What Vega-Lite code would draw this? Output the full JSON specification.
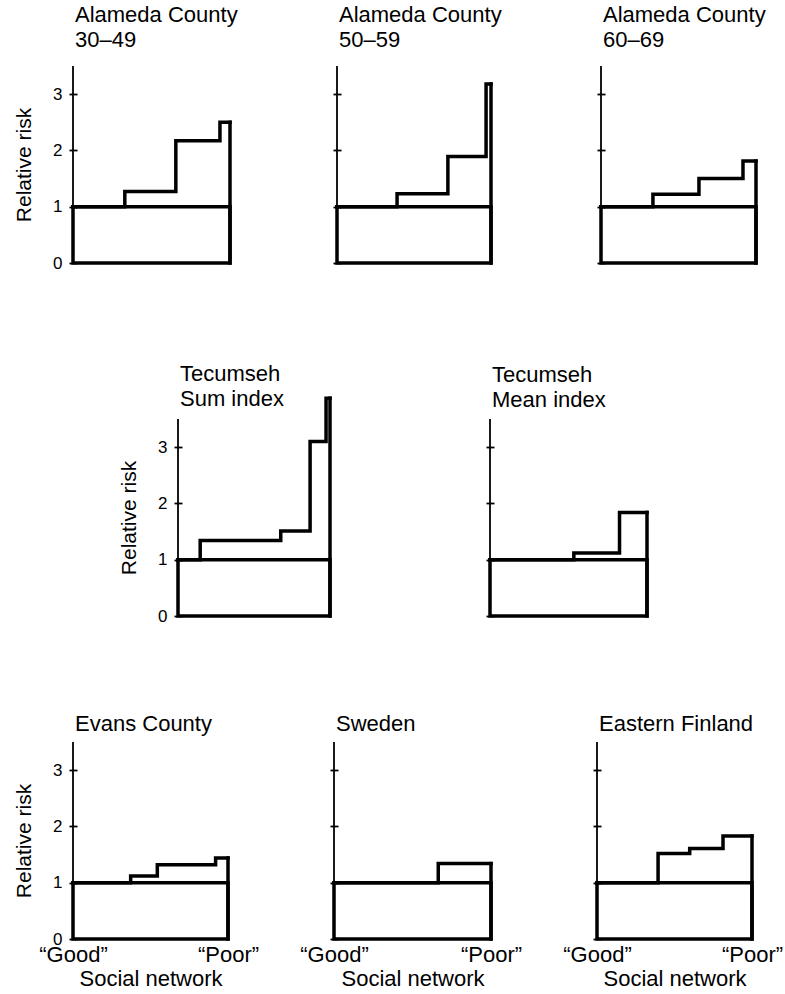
{
  "$schema": "https://vega.github.io/schema/vega-lite/v6.json",
  "background": "white",
  "padding": {"left": 13, "top": 4, "right": 5, "bottom": 0},
  "datasets": {
    "rr": [
      {"panel": "A1", "x": 0, "rr": 1.0}, {"panel": "A1", "x": 33, "rr": 1.27}, {"panel": "A1", "x": 65.5, "rr": 2.17}, {"panel": "A1", "x": 93.6, "rr": 2.5}, {"panel": "A1", "x": 100, "rr": 2.5},
      {"panel": "A2", "x": 0, "rr": 1.0}, {"panel": "A2", "x": 39, "rr": 1.23}, {"panel": "A2", "x": 72, "rr": 1.89}, {"panel": "A2", "x": 96.8, "rr": 3.18}, {"panel": "A2", "x": 100, "rr": 3.18},
      {"panel": "A3", "x": 0, "rr": 1.0}, {"panel": "A3", "x": 33.5, "rr": 1.22}, {"panel": "A3", "x": 63.2, "rr": 1.5}, {"panel": "A3", "x": 91.6, "rr": 1.81}, {"panel": "A3", "x": 100, "rr": 1.81},
      {"panel": "T1", "x": 0, "rr": 1.0}, {"panel": "T1", "x": 14.6, "rr": 1.34}, {"panel": "T1", "x": 67.6, "rr": 1.51}, {"panel": "T1", "x": 86.9, "rr": 3.1}, {"panel": "T1", "x": 97.4, "rr": 3.87}, {"panel": "T1", "x": 100, "rr": 3.87},
      {"panel": "T2", "x": 0, "rr": 1.0}, {"panel": "T2", "x": 53.4, "rr": 1.12}, {"panel": "T2", "x": 82.5, "rr": 1.84}, {"panel": "T2", "x": 100, "rr": 1.84},
      {"panel": "E", "x": 0, "rr": 1.0}, {"panel": "E", "x": 37.2, "rr": 1.12}, {"panel": "E", "x": 54.4, "rr": 1.32}, {"panel": "E", "x": 92, "rr": 1.44}, {"panel": "E", "x": 100, "rr": 1.44},
      {"panel": "S", "x": 0, "rr": 1.0}, {"panel": "S", "x": 66.4, "rr": 1.34}, {"panel": "S", "x": 100, "rr": 1.34},
      {"panel": "F", "x": 0, "rr": 1.0}, {"panel": "F", "x": 39.4, "rr": 1.52}, {"panel": "F", "x": 59.8, "rr": 1.61}, {"panel": "F", "x": 81.3, "rr": 1.83}, {"panel": "F", "x": 100, "rr": 1.83}
    ]
  },
  "config": {
    "view": {"stroke": null},
    "font": "Liberation Sans",
    "title": {"fontSize": 22, "fontWeight": "normal", "anchor": "start", "frame": "group", "lineHeight": 25, "color": "black", "dx": 2, "font": "Liberation Sans"},
    "axis": {"grid": false, "domain": false, "labelColor": "black", "titleColor": "black", "tickColor": "black", "labelFontSize": 17, "titleFontSize": 21, "titleFontWeight": "normal", "labelFont": "Liberation Sans", "titleFont": "Liberation Sans"}
  },
  "vconcat": [
    {
      "hconcat": [
        {
          "width": 157, "height": 197,
          "title": {"text": ["Alameda County", "30–49"], "offset": 13},
          "data": {"name": "rr"},
          "transform": [{"filter": "datum.panel === 'A1'"}],
          "encoding": {
            "x": {"field": "x", "type": "quantitative", "scale": {"domain": [0, 100], "nice": false, "zero": false}, "axis": null},
            "y": {"field": "rr", "type": "quantitative", "scale": {"domain": [0, 3.5], "nice": false}, "axis": {"values": [0, 1, 2, 3], "tickSize": 8, "offset": -4, "tickWidth": 1.8, "labelPadding": 7, "title": "Relative risk", "titlePadding": 18}}
          },
          "layer": [
            {"transform": [{"filter": "datum.x === 0"}], "mark": {"type": "rect", "filled": false, "color": "black", "strokeWidth": 3.5}, "encoding": {"x2": {"datum": 100}, "y2": {"datum": 0}}},
            {"mark": {"type": "line", "interpolate": "step-after", "color": "black", "strokeWidth": 3.5, "strokeCap": "square", "strokeJoin": "miter"}, "encoding": {}},
            {"transform": [{"filter": "datum.x === 100"}], "mark": {"type": "rule", "color": "black", "strokeWidth": 3.5, "strokeCap": "square"}, "encoding": {"y2": {"datum": 0}}},
            {"transform": [{"filter": "datum.x === 0"}], "mark": {"type": "rule", "color": "black", "strokeWidth": 1.8}, "encoding": {"y2": {"datum": 3.5}}}
          ]
        },
        {
          "width": 154, "height": 197,
          "title": {"text": ["Alameda County", "50–59"], "offset": 13},
          "data": {"name": "rr"},
          "transform": [{"filter": "datum.panel === 'A2'"}],
          "encoding": {
            "x": {"field": "x", "type": "quantitative", "scale": {"domain": [0, 100], "nice": false, "zero": false}, "axis": null},
            "y": {"field": "rr", "type": "quantitative", "scale": {"domain": [0, 3.5], "nice": false}, "axis": {"values": [0, 1, 2, 3], "tickSize": 8, "offset": -4, "tickWidth": 1.8, "labels": false, "title": null}}
          },
          "layer": [
            {"transform": [{"filter": "datum.x === 0"}], "mark": {"type": "rect", "filled": false, "color": "black", "strokeWidth": 3.5}, "encoding": {"x2": {"datum": 100}, "y2": {"datum": 0}}},
            {"mark": {"type": "line", "interpolate": "step-after", "color": "black", "strokeWidth": 3.5, "strokeCap": "square", "strokeJoin": "miter"}, "encoding": {}},
            {"transform": [{"filter": "datum.x === 100"}], "mark": {"type": "rule", "color": "black", "strokeWidth": 3.5, "strokeCap": "square"}, "encoding": {"y2": {"datum": 0}}},
            {"transform": [{"filter": "datum.x === 0"}], "mark": {"type": "rule", "color": "black", "strokeWidth": 1.8}, "encoding": {"y2": {"datum": 3.5}}}
          ]
        },
        {
          "width": 155, "height": 197,
          "title": {"text": ["Alameda County", "60–69"], "offset": 13},
          "data": {"name": "rr"},
          "transform": [{"filter": "datum.panel === 'A3'"}],
          "encoding": {
            "x": {"field": "x", "type": "quantitative", "scale": {"domain": [0, 100], "nice": false, "zero": false}, "axis": null},
            "y": {"field": "rr", "type": "quantitative", "scale": {"domain": [0, 3.5], "nice": false}, "axis": {"values": [0, 1, 2, 3], "tickSize": 8, "offset": -4, "tickWidth": 1.8, "labels": false, "title": null}}
          },
          "layer": [
            {"transform": [{"filter": "datum.x === 0"}], "mark": {"type": "rect", "filled": false, "color": "black", "strokeWidth": 3.5}, "encoding": {"x2": {"datum": 100}, "y2": {"datum": 0}}},
            {"mark": {"type": "line", "interpolate": "step-after", "color": "black", "strokeWidth": 3.5, "strokeCap": "square", "strokeJoin": "miter"}, "encoding": {}},
            {"transform": [{"filter": "datum.x === 100"}], "mark": {"type": "rule", "color": "black", "strokeWidth": 3.5, "strokeCap": "square"}, "encoding": {"y2": {"datum": 0}}},
            {"transform": [{"filter": "datum.x === 0"}], "mark": {"type": "rule", "color": "black", "strokeWidth": 1.8}, "encoding": {"y2": {"datum": 3.5}}}
          ]
        }
      ],
      "spacing": 92
    },
    {
      "vconcat": [
        {
          "hconcat": [
            {"width": 5, "height": 10, "data": {"values": []}, "mark": "point"},
            {
              "hconcat": [
                {
                  "width": 152, "height": 197,
                  "title": {"text": ["Tecumseh", "Sum index"], "offset": -20},
                  "data": {"name": "rr"},
                  "transform": [{"filter": "datum.panel === 'T1'"}],
                  "encoding": {
                    "x": {"field": "x", "type": "quantitative", "scale": {"domain": [0, 100], "nice": false, "zero": false}, "axis": null},
                    "y": {"field": "rr", "type": "quantitative", "scale": {"domain": [0, 3.5], "nice": false}, "axis": {"values": [0, 1, 2, 3], "tickSize": 8, "offset": -4, "tickWidth": 1.8, "labelPadding": 7, "title": "Relative risk", "titlePadding": 18}}
                  },
                  "layer": [
                    {"transform": [{"filter": "datum.x === 0"}], "mark": {"type": "rect", "filled": false, "color": "black", "strokeWidth": 3.5}, "encoding": {"x2": {"datum": 100}, "y2": {"datum": 0}}},
                    {"mark": {"type": "line", "interpolate": "step-after", "color": "black", "strokeWidth": 3.5, "strokeCap": "square", "strokeJoin": "miter"}, "encoding": {}},
                    {"transform": [{"filter": "datum.x === 100"}], "mark": {"type": "rule", "color": "black", "strokeWidth": 3.5, "strokeCap": "square"}, "encoding": {"y2": {"datum": 0}}},
                    {"transform": [{"filter": "datum.x === 0"}], "mark": {"type": "rule", "color": "black", "strokeWidth": 1.8}, "encoding": {"y2": {"datum": 3.5}}}
                  ]
                },
                {
                  "width": 157, "height": 197,
                  "title": {"text": ["Tecumseh", "Mean index"], "offset": 6},
                  "data": {"name": "rr"},
                  "transform": [{"filter": "datum.panel === 'T2'"}],
                  "encoding": {
                    "x": {"field": "x", "type": "quantitative", "scale": {"domain": [0, 100], "nice": false, "zero": false}, "axis": null},
                    "y": {"field": "rr", "type": "quantitative", "scale": {"domain": [0, 3.5], "nice": false}, "axis": {"values": [0, 1, 2, 3], "tickSize": 8, "offset": -4, "tickWidth": 1.8, "labels": false, "title": null}}
                  },
                  "layer": [
                    {"transform": [{"filter": "datum.x === 0"}], "mark": {"type": "rect", "filled": false, "color": "black", "strokeWidth": 3.5}, "encoding": {"x2": {"datum": 100}, "y2": {"datum": 0}}},
                    {"mark": {"type": "line", "interpolate": "step-after", "color": "black", "strokeWidth": 3.5, "strokeCap": "square", "strokeJoin": "miter"}, "encoding": {}},
                    {"transform": [{"filter": "datum.x === 100"}], "mark": {"type": "rule", "color": "black", "strokeWidth": 3.5, "strokeCap": "square"}, "encoding": {"y2": {"datum": 0}}},
                    {"transform": [{"filter": "datum.x === 0"}], "mark": {"type": "rule", "color": "black", "strokeWidth": 1.8}, "encoding": {"y2": {"datum": 3.5}}}
                  ]
                }
              ],
              "spacing": 146
            }
          ],
          "spacing": 40
        },
        {
          "hconcat": [
            {
              "width": 155, "height": 197,
              "title": {"text": "Evans County", "offset": 5},
              "data": {"name": "rr"},
              "transform": [{"filter": "datum.panel === 'E'"}],
              "encoding": {
                "x": {"field": "x", "type": "quantitative", "scale": {"domain": [0, 100], "nice": false, "zero": false}, "axis": {"values": [0, 100], "labelExpr": "datum.value === 0 ? '“Good”' : '“Poor”'", "ticks": false, "tickSize": 0, "labelFontSize": 22, "labelPadding": 5, "labelFlush": false, "labelOverlap": false, "title": "Social network", "titleFontSize": 22, "titlePadding": 3}},
                "y": {"field": "rr", "type": "quantitative", "scale": {"domain": [0, 3.5], "nice": false}, "axis": {"values": [0, 1, 2, 3], "tickSize": 8, "offset": -4, "tickWidth": 1.8, "labelPadding": 7, "title": "Relative risk", "titlePadding": 18}}
              },
              "layer": [
                {"transform": [{"filter": "datum.x === 0"}], "mark": {"type": "rect", "filled": false, "color": "black", "strokeWidth": 3.5}, "encoding": {"x2": {"datum": 100}, "y2": {"datum": 0}}},
                {"mark": {"type": "line", "interpolate": "step-after", "color": "black", "strokeWidth": 3.5, "strokeCap": "square", "strokeJoin": "miter"}, "encoding": {}},
                {"transform": [{"filter": "datum.x === 100"}], "mark": {"type": "rule", "color": "black", "strokeWidth": 3.5, "strokeCap": "square"}, "encoding": {"y2": {"datum": 0}}},
                {"transform": [{"filter": "datum.x === 0"}], "mark": {"type": "rule", "color": "black", "strokeWidth": 1.8}, "encoding": {"y2": {"datum": 3.5}}}
              ]
            },
            {
              "width": 157, "height": 197,
              "title": {"text": "Sweden", "offset": 5},
              "data": {"name": "rr"},
              "transform": [{"filter": "datum.panel === 'S'"}],
              "encoding": {
                "x": {"field": "x", "type": "quantitative", "scale": {"domain": [0, 100], "nice": false, "zero": false}, "axis": {"values": [0, 100], "labelExpr": "datum.value === 0 ? '“Good”' : '“Poor”'", "ticks": false, "tickSize": 0, "labelFontSize": 22, "labelPadding": 5, "labelFlush": false, "labelOverlap": false, "title": "Social network", "titleFontSize": 22, "titlePadding": 3}},
                "y": {"field": "rr", "type": "quantitative", "scale": {"domain": [0, 3.5], "nice": false}, "axis": {"values": [0, 1, 2, 3], "tickSize": 8, "offset": -4, "tickWidth": 1.8, "labels": false, "title": null}}
              },
              "layer": [
                {"transform": [{"filter": "datum.x === 0"}], "mark": {"type": "rect", "filled": false, "color": "black", "strokeWidth": 3.5}, "encoding": {"x2": {"datum": 100}, "y2": {"datum": 0}}},
                {"mark": {"type": "line", "interpolate": "step-after", "color": "black", "strokeWidth": 3.5, "strokeCap": "square", "strokeJoin": "miter"}, "encoding": {}},
                {"transform": [{"filter": "datum.x === 100"}], "mark": {"type": "rule", "color": "black", "strokeWidth": 3.5, "strokeCap": "square"}, "encoding": {"y2": {"datum": 0}}},
                {"transform": [{"filter": "datum.x === 0"}], "mark": {"type": "rule", "color": "black", "strokeWidth": 1.8}, "encoding": {"y2": {"datum": 3.5}}}
              ]
            },
            {
              "width": 155, "height": 197,
              "title": {"text": "Eastern Finland", "offset": 5},
              "data": {"name": "rr"},
              "transform": [{"filter": "datum.panel === 'F'"}],
              "encoding": {
                "x": {"field": "x", "type": "quantitative", "scale": {"domain": [0, 100], "nice": false, "zero": false}, "axis": {"values": [0, 100], "labelExpr": "datum.value === 0 ? '“Good”' : '“Poor”'", "ticks": false, "tickSize": 0, "labelFontSize": 22, "labelPadding": 5, "labelFlush": false, "labelOverlap": false, "title": "Social network", "titleFontSize": 22, "titlePadding": 3}},
                "y": {"field": "rr", "type": "quantitative", "scale": {"domain": [0, 3.5], "nice": false}, "axis": {"values": [0, 1, 2, 3], "tickSize": 8, "offset": -4, "tickWidth": 1.8, "labels": false, "title": null}}
              },
              "layer": [
                {"transform": [{"filter": "datum.x === 0"}], "mark": {"type": "rect", "filled": false, "color": "black", "strokeWidth": 3.5}, "encoding": {"x2": {"datum": 100}, "y2": {"datum": 0}}},
                {"mark": {"type": "line", "interpolate": "step-after", "color": "black", "strokeWidth": 3.5, "strokeCap": "square", "strokeJoin": "miter"}, "encoding": {}},
                {"transform": [{"filter": "datum.x === 100"}], "mark": {"type": "rule", "color": "black", "strokeWidth": 3.5, "strokeCap": "square"}, "encoding": {"y2": {"datum": 0}}},
                {"transform": [{"filter": "datum.x === 0"}], "mark": {"type": "rule", "color": "black", "strokeWidth": 1.8}, "encoding": {"y2": {"datum": 3.5}}}
              ]
            }
          ],
          "spacing": 40
        }
      ],
      "spacing": 89
    }
  ],
  "spacing": 92
}
